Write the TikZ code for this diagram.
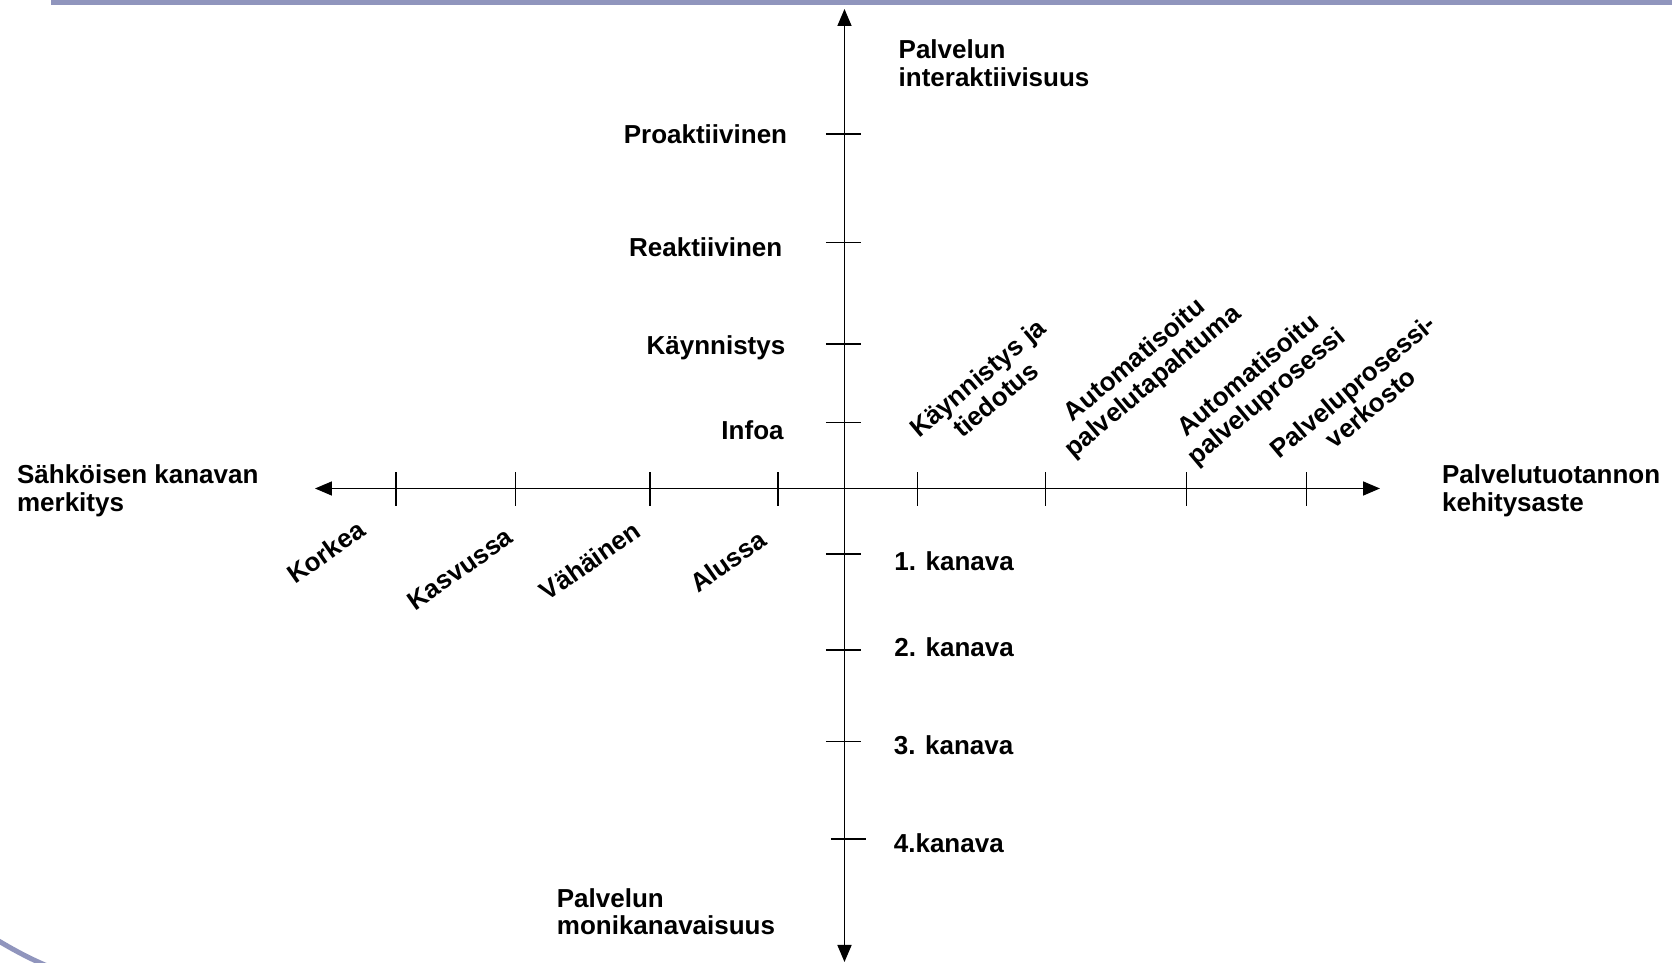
\documentclass[tikz,border=0pt]{standalone}
\usepackage{fontspec}
\setmainfont{Liberation Sans}
\usetikzlibrary{arrows.meta, positioning}
\definecolor{barblue}{RGB}{144,149,189}

\tikzset{
  axis/.style={line width=0.85pt, -{Triangle[length=8.5pt,width=7pt]}},
  tickmark/.style={line width=0.75pt},
  lbl/.style={inner sep=0pt, font=\fontsize{13pt}{14pt}\selectfont\bfseries},
  slant/.style={lbl, align=center, rotate=#1}
}

\begin{document}
\begin{tikzpicture}[x=0.5pt, y=0.5pt]
        \useasboundingbox (-844.5,-474.5) rectangle (827.5,488.5);
        % frame decoration
        \fill[barblue] (-793.5,483.5) rectangle (827.5,488.5);
        \begin{scope}
        \clip (-844.5,-474.5) rectangle (827.5,488.5);
        \draw[barblue, line width=2.5pt] (-850,-450) .. controls (-830,-462) and (-815,-470) .. (-796,-478);
        \end{scope}

        % axes
        \coordinate (O) at (0,0);
        \coordinate (L) at (-529.5,0);
        \coordinate (R) at (535.5,0);
        \coordinate (T) at (0,479.5);
        \coordinate (B) at (0,-473.5);
        \draw[axis] (O) -- (L);
        \draw[axis] (O) -- (R);
        \draw[axis] (O) -- (T);
        \draw[axis] (O) -- (B);

        % ticks
        \foreach \x/\n in {-448.5/h1, -329/h2, -194.6/h3, -66.6/h4, 73/h5, 201/h6, 342/h7, 462.2/h8}
          \draw[tickmark] (\x,16) coordinate (\n) -- (\x,-18);
        \foreach \y/\n in {354.5/v1, 245.8/v2, 144.5/v3, 65.8/v4, -65.5/v5, -161.5/v6, -253.2/v7}
          \draw[tickmark] (-18.5,\y) -- (16.5,\y) coordinate (\n);
        \draw[tickmark] (-13.5,-350.5) -- (21.5,-350.5) coordinate (v8);

        % vertical axis labels
        \node[lbl, anchor=base east] (pro) at (-57,344.5) {Proaktiivinen};
        \node[lbl, anchor=base east] (rea) at (-61.8,231.5) {Reaktiivinen};
        \node[lbl, anchor=base east] (kay) at (-58.8,133.5) {Käynnistys};
        \node[lbl, anchor=base east] (inf) at (-60.5,48.5) {Infoa};
        \node[lbl, anchor=base west] (k1) at (49.5,-82.2) {1. kanava};
        \node[lbl, anchor=base west] (k2) at (49.5,-168.5) {2. kanava};
        \node[lbl, anchor=base west] (k3) at (49,-266.5) {3. kanava};
        \node[lbl, anchor=base west] (k4) at (49,-364.5) {4.kanava};

        % axis titles (base = last line)
        \node[lbl, align=left, anchor=base west] (inter) at (53.8,401.5) {Palvelun\\interaktiivisuus};
        \node[lbl, align=left, anchor=base west] (moni) at (-288,-446.5) {Palvelun\\monikanavaisuus};
        \node[lbl, align=left, anchor=base west] (merk) at (-827.8,-23.5) {Sähköisen kanavan\\merkitys};
        \node[lbl, align=left, anchor=base west] (kehi) at (597.2,-23.5) {Palvelutuotannon\\kehitysaste};

        % horizontal axis labels
        \node[slant=35] (kor) at (-518.5,-63.5) {Korkea};
        \node[slant=35] (kas) at (-384.5,-80.5) {Kasvussa};
        \node[slant=35] (vah) at (-254.5,-72.5) {Vähäinen};
        \node[slant=35] (alu) at (-116.5,-72.5) {Alussa};
        \node[slant=40] (tie) at (142,100) {Käynnistys ja\\tiedotus};
        \node[slant=40] (tap) at (300,117) {Automatisoitu\\palvelutapahtuma};
        \node[slant=40] (pros) at (413.5,101.5) {Automatisoitu\\palveluprosessi};
        \node[slant=40] (verk) at (517,91.5) {Palveluprosessi-\\verkosto};
\end{tikzpicture}
\end{document}
